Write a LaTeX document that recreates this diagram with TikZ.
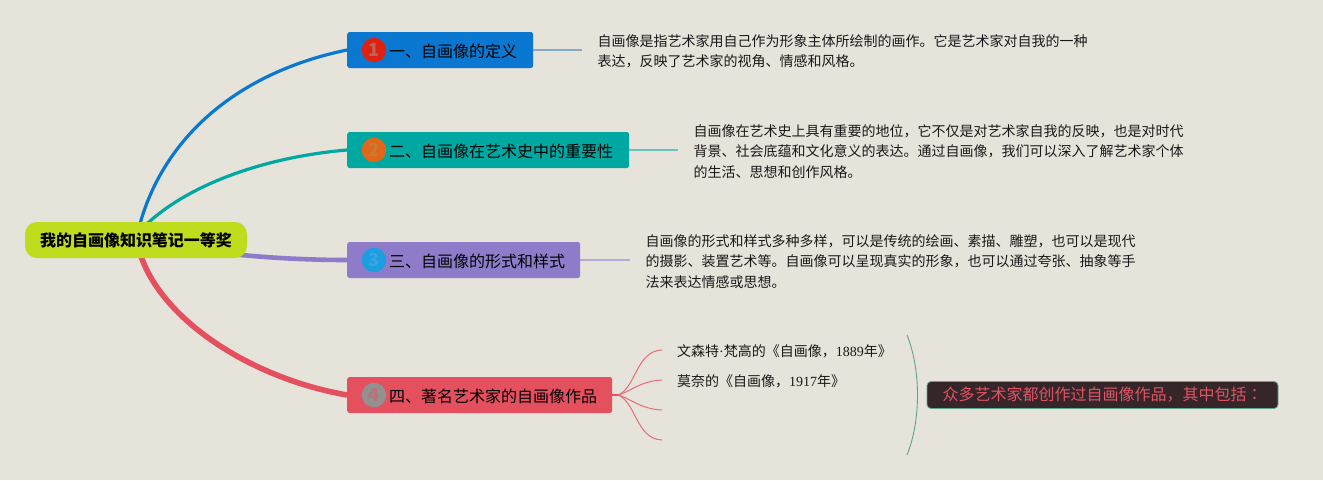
\documentclass[tikz,border=0pt]{standalone}
\usepackage{fontspec}
\usetikzlibrary{backgrounds}
\setmainfont{Noto Sans CJK SC}
\newfontfamily\latinserif{Liberation Serif}
\newfontfamily\tcfont{Noto Sans CJK TC}
\definecolor{bgc}{HTML}{E6E3DB}
\definecolor{rootc}{HTML}{BFDC1F}
\definecolor{bluec}{HTML}{0A78D0}
\definecolor{tealc}{HTML}{00A8A2}
\definecolor{purplec}{HTML}{8E7CCB}
\definecolor{redc}{HTML}{E5505F}
\definecolor{darkc}{HTML}{35262A}
\definecolor{greenc}{HTML}{5FA58E}
\tikzset{
  branchbox/.style={rounded corners=2.5pt,minimum height=36pt,inner sep=0pt,anchor=west},
  branchtext/.style={anchor=west,inner sep=0pt,text=black,font=\fontsize{16pt}{18pt}\selectfont},
  badge/.style={circle,minimum size=24.5pt,inner sep=0pt,font=\fontsize{18pt}{18pt}\selectfont\bfseries},
  desc/.style={anchor=west,align=left,inner sep=0pt,text=black!90,font=\fontsize{14pt}{20.2pt}\selectfont},
  leaf/.style={anchor=west,inner sep=0pt,text=black!90,font=\fontsize{14pt}{20pt}\selectfont},
  twig/.style={redc!80!bgc,line width=1pt},
}
\begin{document}
\begin{tikzpicture}[x=1pt,y=-1pt]
\useasboundingbox (0,0) rectangle (1323,480);

% free ends
\coordinate (s1) at (582,50);
\coordinate (s2) at (678,150);
\coordinate (s3) at (630,260);
\coordinate (l1) at (662,350);
\coordinate (l2) at (662,380);
\coordinate (l3) at (662,410);
\coordinate (l4) at (662,440);
\coordinate (bt) at (907,335);
\coordinate (bb) at (907,455);
\coordinate (hub) at (618,395);

% nodes
\node[fill=rootc,rounded corners=12pt,minimum width=222pt,minimum height=36pt,inner sep=0pt,text=black,font=\fontsize{16pt}{18pt}\selectfont\bfseries] (root) at (136,240) {我的自画像知识笔记一等奖};

\node[branchbox,fill=bluec,minimum width=186pt] (b1) at (347,50) {};
\node[branchbox,fill=tealc,minimum width=282pt] (b2) at (347,150) {};
\node[branchbox,fill=purplec,minimum width=233pt] (b3) at (347,260) {};
\node[branchbox,fill=redc,minimum width=265pt] (b4) at (347,395) {};

\node[badge,fill={rgb,255:red,221;green,34;blue,17},text={rgb,255:red,190;green,100;blue,90}] (c1) at (374,50) {1};
\node[badge,fill={rgb,255:red,224;green,102;blue,26},text={rgb,255:red,200;green,125;blue,50}] (c2) at (374,150) {2};
\node[badge,fill={rgb,255:red,27;green,159;blue,224},text={rgb,255:red,60;green,165;blue,225}] (c3) at (374,260) {3};
\node[badge,fill={rgb,255:red,145;green,145;blue,145},text={rgb,255:red,185;green,115;blue,120}] (c4) at (374,395) {4};

\node[branchtext] (t1) at (389,51) {一、自画像的定义};
\node[branchtext] (t2) at (389,151) {二、自画像在艺术史中的重要性};
\node[branchtext] (t3) at (389,261) {三、自画像的形式和样式};
\node[branchtext] (t4) at (389,396) {四、著名艺术家的自画像作品};

\node[desc] (d1) at (597.5,51.5) {自画像是指艺术家用自己作为形象主体所绘制的画作。它是艺术家对自我的一种\\表达，反映了艺术家的视角、情感和风格。};
\node[desc] (d2) at (693.5,151.5) {自画像在艺术史上具有重要的地位，它不仅是对艺术家自我的反映，也是对时代\\背景、社会底蕴和文化意义的表达。通过自画像，我们可以深入了解艺术家个体\\的生活、思想和创作风格。};
\node[desc] (d3) at (645.5,261.5) {自画像的形式和样式多种多样，可以是传统的绘画、素描、雕塑，也可以是现代\\的摄影、装置艺术等。自画像可以呈现真实的形象，也可以通过夸张、抽象等手\\法来表达情感或思想。};

\node[leaf] (e1) at (677,351) {文森特{\latinserif ·}梵高的《自画像，{\latinserif 1889}年》};
\node[leaf] (e2) at (677,381) {莫奈的《自画像，{\latinserif 1917}年》};

\node[fill=darkc,draw=greenc,line width=0.8pt,rounded corners=4pt,minimum width=351pt,minimum height=27pt,inner sep=0pt,text={rgb,255:red,226;green,84;blue,100},font=\fontsize{16pt}{18pt}\selectfont] (sum) at (1102.5,395) {众多艺术家都创作过自画像作品，其中包括{\tcfont ：}};

\begin{scope}[on background layer]
\fill[bgc] (0,0) rectangle (1323,480);
% main branches
\draw[bluec,line width=3.2pt] ([xshift=4pt,yshift=-2pt]root.north) .. controls (165,135) and (240,72) .. (b1.west);
\draw[tealc,line width=3.2pt] ([xshift=11pt,yshift=-2pt]root.north) .. controls (190,184) and (265,157) .. (b2.west);
\draw[purplec,line width=4.6pt] ([xshift=-14pt,yshift=4pt]root.south east) .. controls (270,258) and (310,260) .. (b3.west);
\draw[redc,line width=5.6pt] ([xshift=5pt,yshift=2pt]root.south) .. controls (163,320) and (250,378) .. (b4.west);
% stubs
\draw[bluec!45!bgc!85!gray,line width=1.3pt] (b1.east) -- (s1);
\draw[tealc!55!bgc,line width=1.3pt] (b2.east) -- (s2);
\draw[purplec!55!bgc,line width=1.3pt] (b3.east) -- (s3);
\end{scope}

% twigs
\draw[redc,line width=1.4pt] (b4.east) -- (hub);
\draw[twig] (hub) .. controls (636,388) and (636,351) .. (l1);
\draw[twig] (hub) .. controls (630,392) and (640,381) .. (l2);
\draw[twig] (hub) .. controls (630,398) and (640,409) .. (l3);
\draw[twig] (hub) .. controls (636,402) and (636,439) .. (l4);

% bracket
\draw[greenc,line width=0.9pt] (bt) .. controls (921,370) and (921,420) .. (bb);
\end{tikzpicture}
\end{document}
